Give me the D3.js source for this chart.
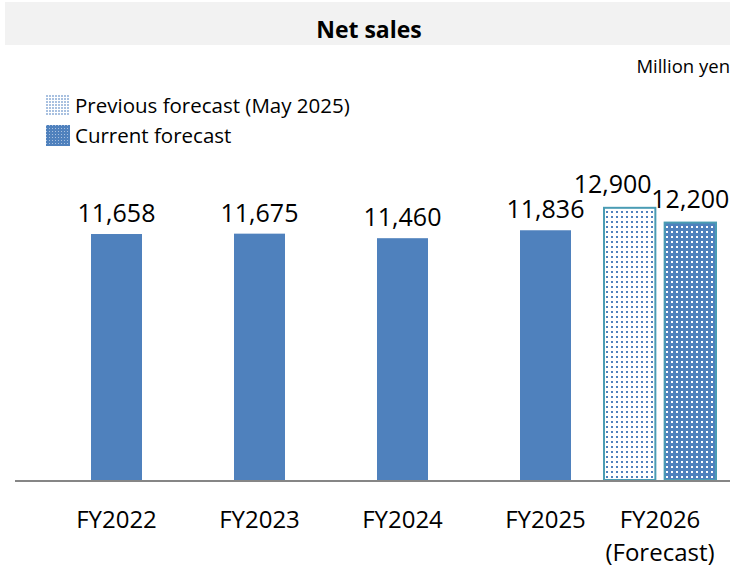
<!DOCTYPE html>
<html>
<head>
<meta charset="utf-8">
<script src="https://cdn.jsdelivr.net/npm/d3@7"></script>
<style>
  body { margin: 0; background: #fff; }
  svg { display: block; font-family: "Open Sans", sans-serif; }
</style>
</head>
<body>
<script>
// data
var categories = ["FY2022", "FY2023", "FY2024", "FY2025", "FY2026"]
var actualValues = [11658, 11675, 11460, 11836]
var forecastSeries = ["Previous forecast (May 2025)", "Current forecast"]
var forecastValues = [12900, 12200]
var forecastSub = "(Forecast)"

var width = 730, height = 570

var svg = d3.select("body").append("svg")
  .attr("width", width)
  .attr("height", height)

// patterns for the forecast bars
var defs = svg.append("defs")
var pPrev = defs.append("pattern").attr("id", "pat-prev")
  .attr("patternUnits", "userSpaceOnUse").attr("width", 5).attr("height", 5)
pPrev.append("rect").attr("width", 5).attr("height", 5).attr("fill", "#fff")
pPrev.append("rect").attr("x", 1).attr("y", 1).attr("width", 2).attr("height", 2).attr("fill", "#4f81bd")

var pCurr = defs.append("pattern").attr("id", "pat-curr")
  .attr("patternUnits", "userSpaceOnUse").attr("width", 5).attr("height", 5)
pCurr.append("rect").attr("width", 5).attr("height", 5).attr("fill", "#4f81bd")
pCurr.append("rect").attr("x", 1).attr("y", 1).attr("width", 2).attr("height", 2).attr("fill", "#fff")

var pLeg = defs.append("pattern").attr("id", "pat-leg")
  .attr("patternUnits", "userSpaceOnUse").attr("width", 3).attr("height", 3)
pLeg.append("rect").attr("width", 3).attr("height", 3).attr("fill", "#fff")
pLeg.append("rect").attr("width", 2).attr("height", 2).attr("fill", "#a9c1e0")

var pLeg2 = defs.append("pattern").attr("id", "pat-leg2")
  .attr("patternUnits", "userSpaceOnUse").attr("width", 3).attr("height", 3)
pLeg2.append("rect").attr("width", 3).attr("height", 3).attr("fill", "#4f81bd")
pLeg2.append("rect").attr("width", 1).attr("height", 1).attr("fill", "#a9c1e0")

// title band
svg.append("rect")
  .attr("x", 5).attr("y", 2)
  .attr("width", width - 5).attr("height", 43)
  .attr("fill", "#f2f2f2")

svg.append("text")
  .attr("x", 369).attr("y", 38)
  .attr("text-anchor", "middle")
  .style("font-weight", "bold")
  .style("font-size", "23px")
  .text("Net sales")

svg.append("text")
  .attr("x", 730).attr("y", 73)
  .attr("text-anchor", "end")
  .style("font-size", "18.5px")
  .text("Million yen")

// scales
var x = d3.scaleBand()
  .domain(categories)
  .range([45, 760])
  .padding(0)

var y = d3.scaleLinear()
  .domain([0, 14000])
  .range([480, 184.6])

var barW = 51

// forecast group sits left of its band
var fx = d3.scaleBand()
  .domain(forecastSeries)
  .range([x("FY2026") - 14, x("FY2026") + 100])
  .paddingInner(0.12)

var catCenter = function(c) {
  if (c === "FY2026") return fx.range()[0] + (fx.range()[1] - fx.range()[0]) / 2
  return x(c) + x.bandwidth() / 2
}

// actual bars
var actual = actualValues.map(function(v, i) { return { cat: categories[i], v: v } })

svg.selectAll("rect.bar")
  .data(actual)
  .enter().append("rect")
  .attr("class", "bar")
  .attr("x", function(d) { return catCenter(d.cat) - barW / 2 })
  .attr("y", function(d) { return y(d.v) })
  .attr("width", barW)
  .attr("height", function(d) { return y(0) - y(d.v) })
  .attr("fill", "#4f81bd")

svg.selectAll("text.val")
  .data(actual)
  .enter().append("text")
  .attr("class", "val")
  .attr("x", function(d) { return catCenter(d.cat) })
  .attr("y", function(d) { return y(d.v) - 12 })
  .attr("text-anchor", "middle")
  .style("font-size", "25px")
  .text(function(d) { return d3.format(",")(d.v) })

// forecast bars
var fc = forecastValues.map(function(v, i) { return { s: forecastSeries[i], v: v, i: i } })

svg.selectAll("rect.fc")
  .data(fc)
  .enter().append("rect")
  .attr("class", "fc")
  .attr("x", function(d) { return fx(d.s) + 1 })
  .attr("y", function(d) { return y(d.v) })
  .attr("width", fx.bandwidth() - 2)
  .attr("height", function(d) { return y(0) - y(d.v) })
  .attr("fill", function(d) { return d.i === 0 ? "url(#pat-prev)" : "url(#pat-curr)" })
  .attr("stroke", "#4a9cb4")
  .attr("stroke-width", 2)

svg.selectAll("text.fcval")
  .data(fc)
  .enter().append("text")
  .attr("class", "fcval")
  .attr("x", function(d) { return fx(d.s) + fx.bandwidth() / 2 + (d.i === 0 ? -17 : 0) })
  .attr("y", function(d) { return y(d.v) - 15 })
  .attr("text-anchor", "middle")
  .style("font-size", "25px")
  .text(function(d) { return d3.format(",")(d.v) })

// baseline
svg.append("line")
  .attr("x1", 15).attr("x2", width)
  .attr("y1", y(0) + 1).attr("y2", y(0) + 1)
  .attr("stroke", "#868686")
  .attr("stroke-width", 2)

// category labels
svg.selectAll("text.cat")
  .data(categories)
  .enter().append("text")
  .attr("class", "cat")
  .attr("x", function(d) { return catCenter(d) })
  .attr("y", 528)
  .attr("text-anchor", "middle")
  .style("font-size", "24px")
  .text(function(d) { return d })

svg.append("text")
  .attr("x", catCenter("FY2026"))
  .attr("y", 561)
  .attr("text-anchor", "middle")
  .style("font-size", "24px")
  .text(forecastSub)

// legend
var legend = svg.selectAll("g.leg")
  .data(forecastSeries)
  .enter().append("g")
  .attr("class", "leg")
  .attr("transform", function(d, i) { return "translate(46," + (95 + i * 30) + ")" })

legend.append("rect")
  .attr("width", 24).attr("height", 21)
  .attr("fill", function(d, i) { return i === 0 ? "url(#pat-leg)" : "url(#pat-leg2)" })

legend.append("text")
  .attr("x", 29).attr("y", 18)
  .style("font-size", "20.5px")
  .text(function(d) { return d })
</script>
</body>
</html>
